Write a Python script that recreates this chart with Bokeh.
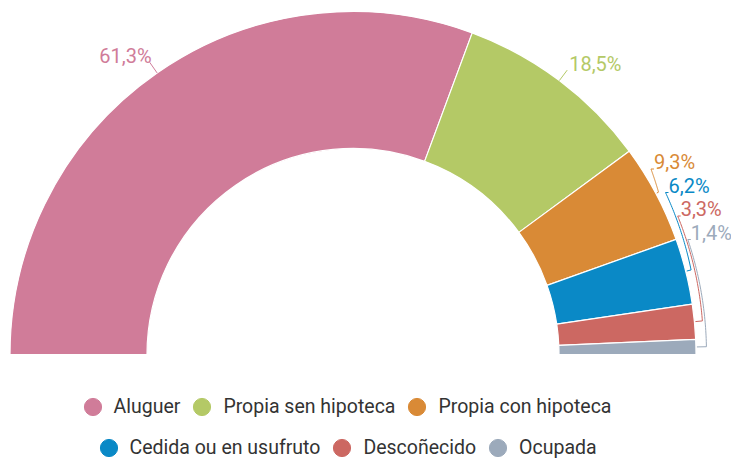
import math
from bokeh.plotting import figure
from bokeh.models import ColumnDataSource, Range1d, Legend, LegendItem
from bokeh.core.properties import value
from bokeh.embed import file_html
from bokeh.resources import INLINE

# ---- data ----
categories = ["Aluguer", "Propia sen hipoteca", "Propia con hipoteca",
              "Cedida ou en usufruto", "Descoñecido", "Ocupada"]
shares = [61.3, 18.5, 9.3, 6.2, 3.3, 1.4]
share_labels = ["61,3%", "18,5%", "9,3%", "6,2%", "3,3%", "1,4%"]
colors = ["#d07c99", "#b4c966", "#d98a36", "#0a89c6", "#cc6862", "#9caabb"]

# ---- layout ----
W, H = 731, 458
CX, CY = 352.5, 354          # centre of the half donut, px from left / top of figure
R_OUT, R_IN = 343, 206
FONT = "Roboto"
HALF_CAP = 7                 # half the cap height of the 20px value labels

p = figure(width=W, height=H, x_range=Range1d(-CX, W - CX), y_range=Range1d(CY - H, CY),
           output_backend="svg", toolbar_location=None, min_border=0,
           x_axis_type=None, y_axis_type=None)
p.grid.visible = False
p.outline_line_color = None
p.background_fill_color = "white"

total = sum(shares)
starts, ends, mids = [], [], []
cum = 0.0
for v in shares:
    a0 = math.pi - cum / total * math.pi
    cum += v
    a1 = math.pi - cum / total * math.pi
    starts.append(a1)
    ends.append(a0)
    mids.append((a0 + a1) / 2)

src = ColumnDataSource(dict(start=starts, end=ends, color=colors, cat=categories))
p.annular_wedge(x=0, y=0, inner_radius=R_IN, outer_radius=R_OUT,
                start_angle="start", end_angle="end", fill_color="color",
                line_color="white", line_width=1.2, source=src)

# ---- labels ----
big = [i for i, v in enumerate(shares) if v >= 10]
small = [i for i, v in enumerate(shares) if v < 10]

lx, ly, lt, lc, la = [], [], [], [], []
seg_x0, seg_y0, seg_x1, seg_y1, seg_c = [], [], [], [], []
for i in big:
    th = mids[i]
    x0, y0 = R_OUT * math.cos(th), R_OUT * math.sin(th)
    x1, y1 = (R_OUT + 13) * math.cos(th), (R_OUT + 13) * math.sin(th)
    seg_x0.append(x0); seg_y0.append(y0); seg_x1.append(x1); seg_y1.append(y1); seg_c.append(colors[i])
    left = th > math.pi / 2
    lx.append(x1 + 2); ly.append(y1 - 1 + HALF_CAP)
    lt.append(share_labels[i]); lc.append(colors[i]); la.append("right" if left else "left")

p.segment(x0=seg_x0, y0=seg_y0, x1=seg_x1, y1=seg_y1, line_color=seg_c, line_width=1)

LABEL_TOP, LABEL_STEP = 185.5, 23.5
mx, my, mc = [], [], []
for k, i in enumerate(small):
    yL = LABEL_TOP - k * LABEL_STEP
    rL = 351 + k
    rB = 346 + 2.5 * k
    thL = math.asin(yL / rL)
    thM = mids[i]
    xs = [(R_OUT + 1) * math.cos(thM)]
    ys = [(R_OUT + 1) * math.sin(thM)]
    n = 40
    for j in range(n + 1):
        t = j / n
        th = thM + (thL - thM) * t
        r = rB + (rL - rB) * t
        xs.append(r * math.cos(th)); ys.append(r * math.sin(th))
    xe = xs[-1] + 3
    xs.append(xe); ys.append(ys[-1])
    mx.append(xs); my.append(ys); mc.append(colors[i])
    lx.append(xe); ly.append(yL + HALF_CAP); lt.append(share_labels[i]); lc.append(colors[i]); la.append("left")

p.multi_line(xs=mx, ys=my, line_color=mc, line_width=1)

lsrc = ColumnDataSource(dict(x=lx, y=ly, text=lt, color=lc, align=la))
p.text(x="x", y="y", text="text", text_color="color", text_align="align",
       text_baseline="middle", text_font=value(FONT), text_font_size="20px", source=lsrc)

# ---- legend (two rows) ----
dummies = [p.scatter(x=[float("nan")], y=[float("nan")], marker="circle",
                     fill_color=c, line_color=c) for c in colors]
for rows, loc in ((range(0, 3), (70.5, 29.8)), (range(3, 6), (86.5, -10.5))):
    items = [LegendItem(label=categories[i], renderers=[dummies[i]]) for i in rows]
    lg = Legend(items=items, orientation="horizontal", location=loc,
                margin=0, padding=0, spacing=-3, label_standoff=0,
                glyph_width=43, glyph_height=43,
                label_text_font=FONT, label_text_font_size="19.5px",
                label_text_color="#333333", border_line_color=None,
                background_fill_alpha=0)
    p.add_layout(lg)

open("out.html", "w").write(file_html(p, INLINE))
